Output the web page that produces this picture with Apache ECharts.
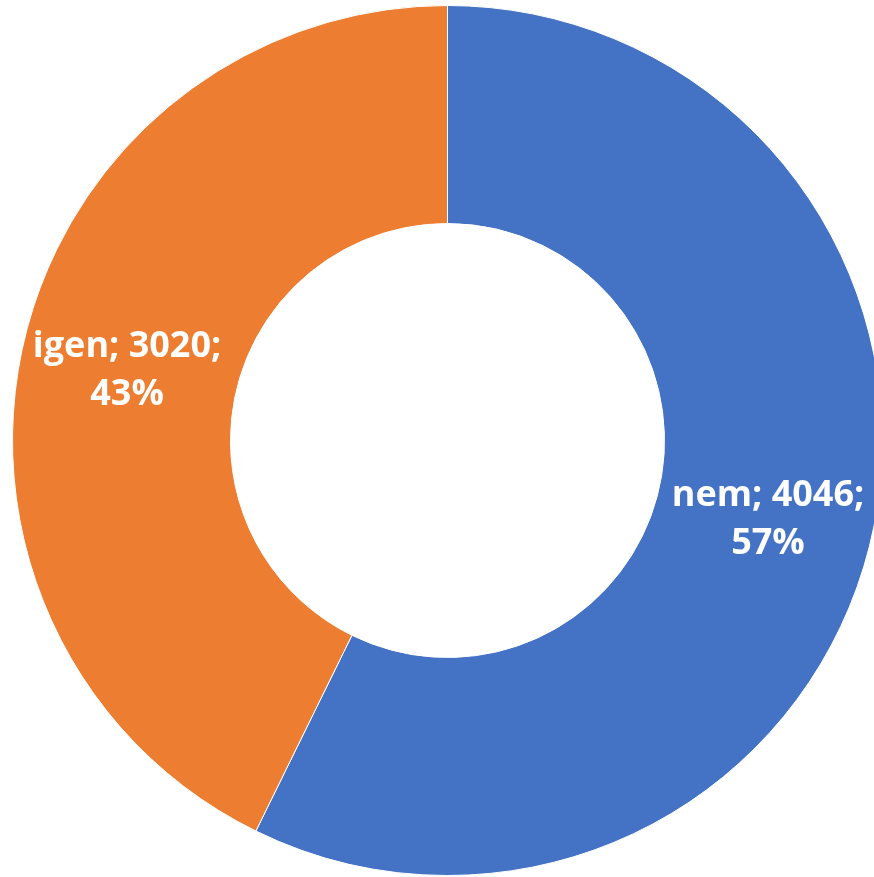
<!DOCTYPE html>
<html>
<head>
<meta charset="utf-8">
<script src="https://cdn.jsdelivr.net/npm/echarts@6/dist/echarts.min.js"></script>
<style>
  html, body { margin: 0; padding: 0; background: #fff; }
  #chart { width: 874px; height: 877px; }
</style>
</head>
<body>
<div id="chart"></div>
<script>
// Answers and their counts
const categories = ['nem', 'igen'];
const counts = [4046, 3020];
const colors = ['#4472C4', '#ED7D31'];

const chart = echarts.init(document.getElementById('chart'));

chart.setOption({
  animation: false,
  series: [{
    type: 'pie',
    center: [447.5, 440.5],
    radius: [217, 435],
    startAngle: 90,
    clockwise: true,
    percentPrecision: 0,
    avoidLabelOverlap: false,
    itemStyle: { borderColor: '#ffffff', borderWidth: 1 },
    label: {
      show: true,
      position: 'inside',
      formatter: '{b}; {c};\n{d}%',
      color: '#ffffff',
      fontFamily: 'Open Sans',
      fontWeight: 'bold',
      fontSize: 36,
      lineHeight: 48,
      align: 'center',
      offset: [0, 5]
    },
    labelLine: { show: false },
    data: categories.map((name, i) => ({
      name: name,
      value: counts[i],
      itemStyle: { color: colors[i] }
    }))
  }]
});
</script>
</body>
</html>
